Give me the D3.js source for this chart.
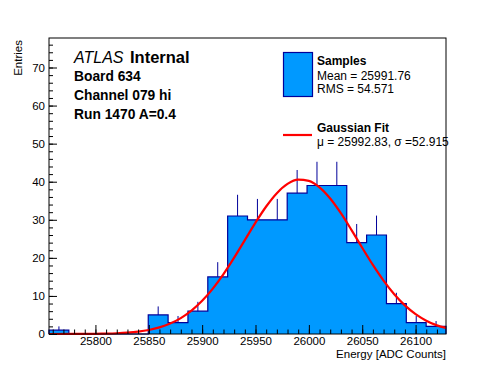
<!DOCTYPE html>
<html><head><meta charset="utf-8">
<script src="https://cdn.jsdelivr.net/npm/d3@7"></script>
<style>
html,body{margin:0;padding:0;background:#fff;}
svg{display:block;font-family:"Liberation Sans",Arial,Helvetica,sans-serif;}
</style></head>
<body><svg id="c" width="496" height="372"></svg>
<script>
// ---- data ----
const binEdges = [25756.5, 25775.1, 25793.7, 25812.3, 25830.9, 25849.5, 25868.1, 25886.7, 25905.3, 25923.9, 25942.5, 25961.1, 25979.7, 25998.3, 26016.9, 26035.5, 26054.1, 26072.7, 26091.3, 26109.9, 26128.5];
const counts   = [1, 0, 0, 0, 0, 5, 3, 6, 15, 31, 30, 30, 37, 39, 39, 24, 26, 8, 3, 2];
const errors   = [1, 0, 0, 0, 0, 2.24, 1.73, 2.45, 3.87, 5.57, 5.48, 5.48, 6.08, 6.24, 6.24, 4.9, 5.1, 2.83, 1.73, 1.41];
const fitX = [25756.5, 25760, 25780, 25800, 25810, 25820, 25830, 25840, 25850, 25860, 25870, 25880, 25890, 25900, 25910, 25920, 25930, 25940, 25950, 25960, 25970, 25980, 25990, 26000, 26010, 26020, 26030, 26040, 26050, 26060, 26070, 26080, 26090, 26100, 26110, 26120, 26128.5];
const fitY = [0.002, 0.003, 0.012, 0.053, 0.104, 0.196, 0.357, 0.627, 1.062, 1.739, 2.745, 4.181, 6.145, 8.714, 11.926, 15.745, 20.062, 24.664, 29.258, 33.492, 36.992, 39.424, 40.542, 40.229, 38.518, 35.585, 31.724, 27.289, 22.650, 18.140, 14.017, 10.452, 7.522, 5.222, 3.499, 2.262, 1.60];
const xTickLabels = [25800, 25850, 25900, 25950, 26000, 26050, 26100];
const xMinorTicks = d3.range(25760, 26121, 10);
const yTickLabels = [0, 10, 20, 30, 40, 50, 60, 70];
const yMinorTicks = d3.range(0, 77, 2);
const infoLines = ["Board 634", "Channel 079 hi", "Run 1470 A=0.4"];
const legendSamples = ["Samples", "Mean = 25991.76", "RMS = 54.571"];
const legendFit = ["Gaussian Fit", "\u03bc = 25992.83, \u03c3 =52.915"];

// ---- layout ----
const L = 49, R = 446, T = 38, B = 334;
const svg = d3.select("#c");
const x = d3.scaleLinear().domain([binEdges[0], binEdges[binEdges.length-1]]).range([L, R]);
const y = d3.scaleLinear().domain([0, 77.75]).range([B, T]);

const fillC = "#0099ff", lineC = "#00009a";

// histogram area
const pts = [[binEdges[0], 0]];
counts.forEach((c, i) => { pts.push([binEdges[i], c]); pts.push([binEdges[i+1], c]); });
pts.push([binEdges[binEdges.length-1], 0]);
const hline = d3.line().x(d => x(d[0])).y(d => y(d[1]));
svg.append("path").attr("d", hline(pts)).attr("fill", fillC).attr("stroke", lineC).attr("stroke-width", 1.2);

// error bars (upper part)
svg.append("g").selectAll("line").data(counts.map((c,i)=>({c, e: errors[i], m: (binEdges[i]+binEdges[i+1])/2})).filter(d=>d.c>0))
  .join("line")
  .attr("x1", d => x(d.m)).attr("x2", d => x(d.m))
  .attr("y1", d => y(d.c)).attr("y2", d => y(d.c + d.e))
  .attr("stroke", lineC).attr("stroke-width", 1);

// fit
const fline = d3.line().x((d,i) => x(fitX[i])).y(d => y(d)).curve(d3.curveMonotoneX);
svg.append("path").attr("d", fline(fitY)).attr("fill", "none").attr("stroke", "#ff0000").attr("stroke-width", 2.2);

// axes
svg.append("g").attr("transform", `translate(0,${B})`)
  .call(d3.axisBottom(x).tickValues(xTickLabels).tickSize(-9).tickPadding(3).tickFormat(d3.format("d")));
svg.append("g").attr("transform", `translate(0,${B})`)
  .call(d3.axisBottom(x).tickValues(xMinorTicks).tickSize(-4.5).tickFormat(""));
svg.append("g").attr("transform", `translate(${L},0)`)
  .call(d3.axisLeft(y).tickValues(yTickLabels).tickSize(-8).tickPadding(4).tickFormat(d3.format("d")));
svg.append("g").attr("transform", `translate(${L},0)`)
  .call(d3.axisLeft(y).tickValues(yMinorTicks).tickSize(-4).tickFormat(""));
svg.selectAll(".domain").remove();
svg.selectAll(".tick line").attr("stroke", "#000");
svg.selectAll(".tick text").attr("font-size", 11.5).attr("fill", "#000").attr("font-family", "Liberation Sans, Arial, sans-serif");

// frame
svg.append("rect").attr("x", L).attr("y", T).attr("width", R-L).attr("height", B-T)
  .attr("fill", "none").attr("stroke", "#000").attr("stroke-width", 1);

// axis titles
svg.append("text").attr("x", R).attr("y", 358).attr("text-anchor", "end").attr("font-size", 11.5).text("Energy [ADC Counts]");
svg.append("text").attr("transform", "translate(22,40) rotate(-90)").attr("text-anchor", "end").attr("font-size", 11.5).text("Entries");

// ATLAS label
svg.append("text").attr("x", 74).attr("y", 63).attr("font-size", 16).attr("font-style", "italic").text("ATLAS");
svg.append("text").attr("x", 130).attr("y", 63).attr("font-size", 16.5).attr("font-weight", "bold").text("Internal");
svg.append("g").selectAll("text").data(infoLines).join("text")
  .attr("x", 74).attr("y", (d,i) => 81 + i*19).attr("font-size", 13.8).attr("font-weight", "bold").text(d => d);

// legend
svg.append("rect").attr("x", 283.5).attr("y", 52.5).attr("width", 29).attr("height", 44)
  .attr("fill", fillC).attr("stroke", lineC).attr("stroke-width", 1.2);
svg.append("g").selectAll("text").data(legendSamples).join("text")
  .attr("x", 317).attr("y", (d,i) => [65, 80, 93][i]).attr("font-size", 12)
  .attr("font-weight", (d,i) => i === 0 ? "bold" : "normal").text(d => d);
svg.append("line").attr("x1", 283).attr("x2", 312).attr("y1", 135).attr("y2", 135).attr("stroke", "#ff0000").attr("stroke-width", 2.2);
svg.append("g").selectAll("text").data(legendFit).join("text")
  .attr("x", 317).attr("y", (d,i) => [132, 146][i]).attr("font-size", 12)
  .attr("font-weight", (d,i) => i === 0 ? "bold" : "normal").text(d => d);
</script></body></html>
